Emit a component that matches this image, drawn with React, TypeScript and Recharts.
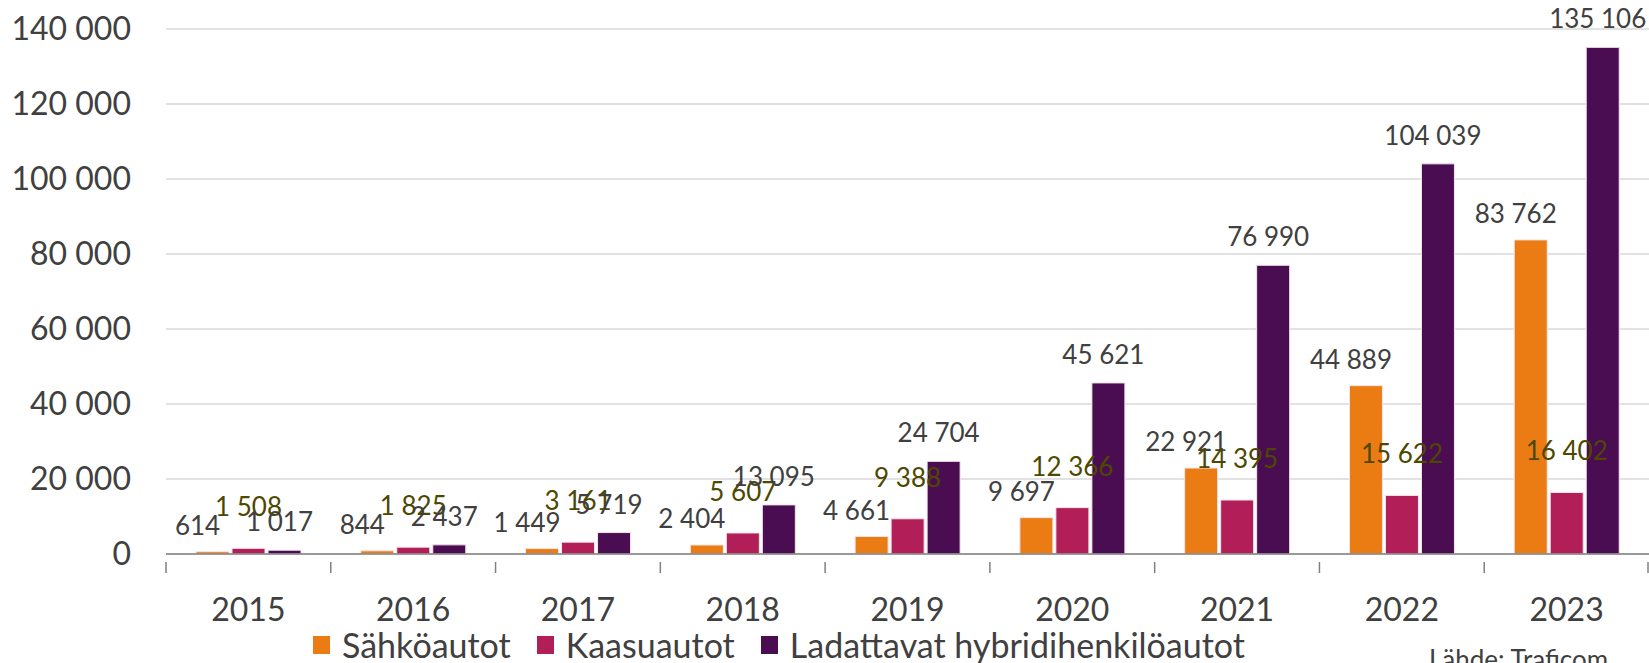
import { BarChart, Bar, XAxis, YAxis, CartesianGrid, LabelList } from 'recharts';

const years = ['2015', '2016', '2017', '2018', '2019', '2020', '2021', '2022', '2023'];
const sahko = [614, 844, 1449, 2404, 4661, 9697, 22921, 44889, 83762];
const kaasu = [1508, 1825, 3161, 5607, 9388, 12366, 14395, 15622, 16402];
const hybridi = [1017, 2437, 5719, 13095, 24704, 45621, 76990, 104039, 135106];
const yTicks = [0, 20000, 40000, 60000, 80000, 100000, 120000, 140000];

const series = [
  { key: 'sahko', name: 'Sähköautot', color: '#EB7B13', label: '#404040', dx: -15, lift: 17 },
  { key: 'kaasu', name: 'Kaasuautot', color: '#B21E58', label: '#4D4800', dx: 0, lift: 32 },
  { key: 'hybridi', name: 'Ladattavat hybridihenkilöautot', color: '#4A0D52', label: '#404040', dx: -5, lift: 19 },
];

const data = years.map((year, i) => ({
  year,
  sahko: sahko[i],
  kaasu: kaasu[i],
  hybridi: hybridi[i],
}));

const W = 1649;
const H = 663;
const Y_W = 166;
const FONT = 'Lato, "Open Sans", sans-serif';
const STEP = (W - Y_W) / years.length;

const fmt = (v: number) => String(v).replace(/\B(?=(\d{3})+(?!\d))/g, ' ');

const makeLabel = (color: string, dx: number, lift: number) => (props: any) => {
  const { x, y, width, value } = props;
  return (
    <text x={x + width / 2 + dx} y={y - lift} textAnchor="middle" fill={color} fontSize={26} fontFamily={FONT}>
      {fmt(value)}
    </text>
  );
};

const YearTick = (props: any) => {
  const { x, y, payload, index } = props;
  return (
    <g>
      <line x1={x - STEP / 2} x2={x - STEP / 2} y1={y} y2={y + 11} stroke="#808080" strokeWidth={1.5} />
      {index === years.length - 1 ? (
        <line x1={x + STEP / 2 - 1} x2={x + STEP / 2 - 1} y1={y} y2={y + 11} stroke="#808080" strokeWidth={1.5} />
      ) : null}
      <text x={x} y={y + 59} textAnchor="middle" fill="#404040" fontSize={32} fontFamily={FONT}>
        {payload.value}
      </text>
    </g>
  );
};

export default function App() {
  return (
    <div style={{ position: 'absolute', left: 0, top: 0, width: W, height: H, background: '#fff', overflow: 'hidden' }}>
      <BarChart
        width={W}
        height={H}
        data={data}
        margin={{ top: 29, right: 0, left: 0, bottom: 0 }}
        barSize={33}
        barGap={3}
      >
        <CartesianGrid vertical={false} stroke="#D9D9D9" strokeWidth={1.5} />
        <XAxis
          dataKey="year"
          axisLine={{ stroke: '#808080', strokeWidth: 1.5 }}
          tickLine={false}
          tick={<YearTick />}
          interval={0}
          height={109}
        />
        <YAxis
          width={Y_W}
          domain={[0, 140000]}
          ticks={yTicks}
          axisLine={false}
          tickLine={false}
          tickSize={0}
          tickMargin={35}
          tickFormatter={fmt}
          tick={{ fill: '#404040', fontSize: 32, fontFamily: FONT }}
        />
        {series.map((s) => (
          <Bar key={s.key} dataKey={s.key} name={s.name} fill={s.color} stroke="#f4e4ea" strokeWidth={1} isAnimationActive={false}>
            <LabelList dataKey={s.key} content={makeLabel(s.label, s.dx, s.lift)} />
          </Bar>
        ))}
      </BarChart>
      <div
        style={{
          position: 'absolute',
          left: 313,
          top: 628,
          display: 'flex',
          alignItems: 'center',
          fontFamily: FONT,
          fontSize: 34,
          color: '#404040',
          lineHeight: '33px',
          whiteSpace: 'nowrap',
        }}
      >
        {series.map((s) => (
          <div key={s.key} style={{ display: 'flex', alignItems: 'center', marginRight: 26 }}>
            <span style={{ width: 17, height: 18, background: s.color, display: 'inline-block', marginRight: 12 }} />
            <span>{s.name}</span>
          </div>
        ))}
      </div>
      <div style={{ position: 'absolute', left: 1429, top: 643, fontFamily: FONT, fontSize: 26, color: '#404040', whiteSpace: 'nowrap' }}>
        Lähde: Traficom
      </div>
    </div>
  );
}
